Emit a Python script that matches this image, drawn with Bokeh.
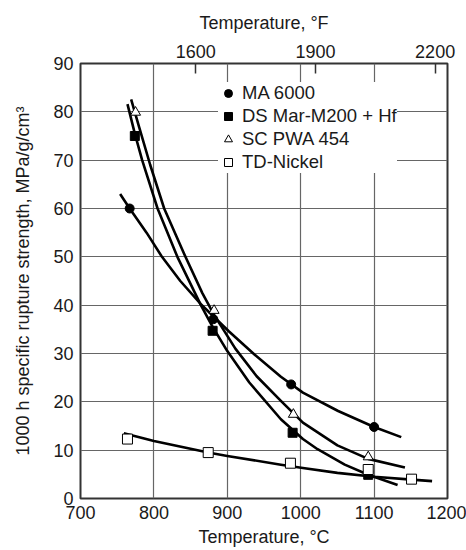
from bokeh.plotting import figure
from bokeh.models import Range1d, LinearAxis, FixedTicker, Legend, LegendItem
from bokeh.embed import file_html
from bokeh.resources import INLINE

# ---- data ----
x_ticks = [700, 800, 900, 1000, 1100, 1200]
y_ticks = [0, 10, 20, 30, 40, 50, 60, 70, 80, 90]
f_ticks = [1600, 1900, 2200]

# measured points
ma_t = [767, 881, 987, 1100]
ma_v = [60.0, 37.1, 23.6, 14.8]
ds_t = [774, 880, 989, 1092]
ds_v = [75.0, 34.7, 13.6, 4.9]
sc_t = [775, 882, 990, 1092]
sc_v = [79.9, 38.9, 17.4, 8.6]
td_t = [764, 874, 986, 1092, 1151]
td_v = [12.3, 9.5, 7.3, 6.0, 4.0]

# fitted curves
ma_curve_t = [754, 767, 790, 811, 836, 864, 902, 937, 973, 1003, 1051, 1100, 1137]
ma_curve_v = [63.0, 60.0, 55.0, 50.0, 45.0, 40.2, 34.6, 29.8, 25.2, 21.9, 18.1, 14.8, 12.7]
ds_curve_t = [764, 774, 784, 805, 832, 864, 880, 900, 930, 973, 1003, 1023, 1060, 1092, 1132]
ds_curve_v = [81.6, 75.5, 70.0, 60.0, 50.0, 40.0, 35.5, 30.5, 24.0, 16.4, 12.3, 10.2, 7.0, 4.9, 2.8]
sc_curve_t = [769, 780, 795, 814, 843, 866, 882, 911, 940, 973, 1003, 1050, 1092, 1142]
sc_curve_v = [82.6, 76.8, 69.0, 60.0, 50.0, 42.5, 38.0, 31.0, 25.3, 20.2, 15.7, 11.0, 8.2, 6.4]
td_curve_t = [759, 800, 874, 900, 973, 1003, 1050, 1100, 1151, 1179]
td_curve_v = [13.5, 11.9, 9.5, 8.8, 7.0, 6.3, 5.3, 4.5, 3.9, 3.6]

labels = ["MA 6000", "DS Mar-M200 + Hf", "SC PWA 454", "TD-Nickel"]

FONT = "Liberation Sans"
TXT = "#1a1a1a"
DARK = "#333333"

p = figure(width=466, height=550, output_backend="svg", toolbar_location=None,
           x_range=Range1d(700, 1200), y_range=Range1d(0, 90),
           min_border_left=80, min_border_right=19, min_border_top=63, min_border_bottom=52,
           x_axis_label="Temperature, °C",
           y_axis_label="1000 h specific rupture strength, MPa/g/cm³")
p.background_fill_color = "white"
p.border_fill_color = "white"
p.outline_line_color = DARK
p.outline_line_width = 2

p.xaxis.ticker = FixedTicker(ticks=x_ticks)
p.yaxis.ticker = FixedTicker(ticks=y_ticks)
p.xgrid.ticker = FixedTicker(ticks=x_ticks)
p.ygrid.ticker = FixedTicker(ticks=y_ticks)
for g in (p.xgrid, p.ygrid):
    g.grid_line_color = "#666666"
    g.grid_line_width = 1.2

for ax in (p.xaxis[0], p.yaxis[0]):
    ax.axis_line_color = None
    ax.major_tick_in = 0
    ax.major_tick_out = 0
    ax.minor_tick_line_color = None
    ax.major_label_text_font = FONT
    ax.major_label_text_font_size = "18px"
    ax.major_label_text_color = TXT
    ax.axis_label_text_font = FONT
    ax.axis_label_text_font_size = "18px"
    ax.axis_label_text_font_style = "normal"
    ax.axis_label_text_color = TXT
    ax.major_label_standoff = 7
p.xaxis.axis_label_standoff = 5
p.yaxis.axis_label_standoff = 17

p.extra_x_ranges = {"F": Range1d(1311, 2231)}
top = LinearAxis(x_range_name="F", ticker=FixedTicker(ticks=f_ticks),
                 axis_label="Temperature, °F")
top.axis_line_color = None
top.major_tick_in = 10
top.major_tick_out = 0
top.major_tick_line_color = DARK
top.major_tick_line_width = 1.5
top.minor_tick_line_color = None
top.major_label_text_font = FONT
top.major_label_text_font_size = "18px"
top.major_label_text_color = TXT
top.major_label_standoff = 6
top.axis_label_text_font = FONT
top.axis_label_text_font_size = "18px"
top.axis_label_text_font_style = "normal"
top.axis_label_text_color = TXT
top.axis_label_standoff = 9
p.add_layout(top, "above")

LW = 2.6
p.line(ma_curve_t, ma_curve_v, line_color="black", line_width=LW, line_join="round")
p.line(ds_curve_t, ds_curve_v, line_color="black", line_width=LW, line_join="round")
p.line(sc_curve_t, sc_curve_v, line_color="black", line_width=LW, line_join="round")
p.line(td_curve_t, td_curve_v, line_color="black", line_width=LW, line_join="round")

r_ma = p.scatter(ma_t, ma_v, marker="circle", size=9, fill_color="black", line_color="black")
r_ds = p.scatter(ds_t, ds_v, marker="square", size=9, fill_color="black", line_color="black")
r_sc = p.scatter(sc_t, sc_v, marker="triangle", size=10, fill_color="white", line_color="black", line_width=1)
r_td = p.scatter(td_t, td_v, marker="square", size=10, fill_color="white", line_color="black", line_width=1)

legend = Legend(items=[LegendItem(label=labels[0], renderers=[r_ma]),
                       LegendItem(label=labels[1], renderers=[r_ds]),
                       LegendItem(label=labels[2], renderers=[r_sc]),
                       LegendItem(label=labels[3], renderers=[r_td])],
                location=(138, 325))
legend.label_text_font = FONT
legend.label_text_font_size = "18.5px"
legend.label_text_color = TXT
legend.glyph_width = 20
legend.glyph_height = 20
legend.label_height = 20
legend.label_standoff = 4
legend.spacing = 1
legend.padding = 6
legend.margin = 0
legend.border_line_color = None
legend.background_fill_color = "white"
legend.background_fill_alpha = 1.0
p.add_layout(legend, "center")

open("out.html", "w").write(file_html(p, INLINE))
